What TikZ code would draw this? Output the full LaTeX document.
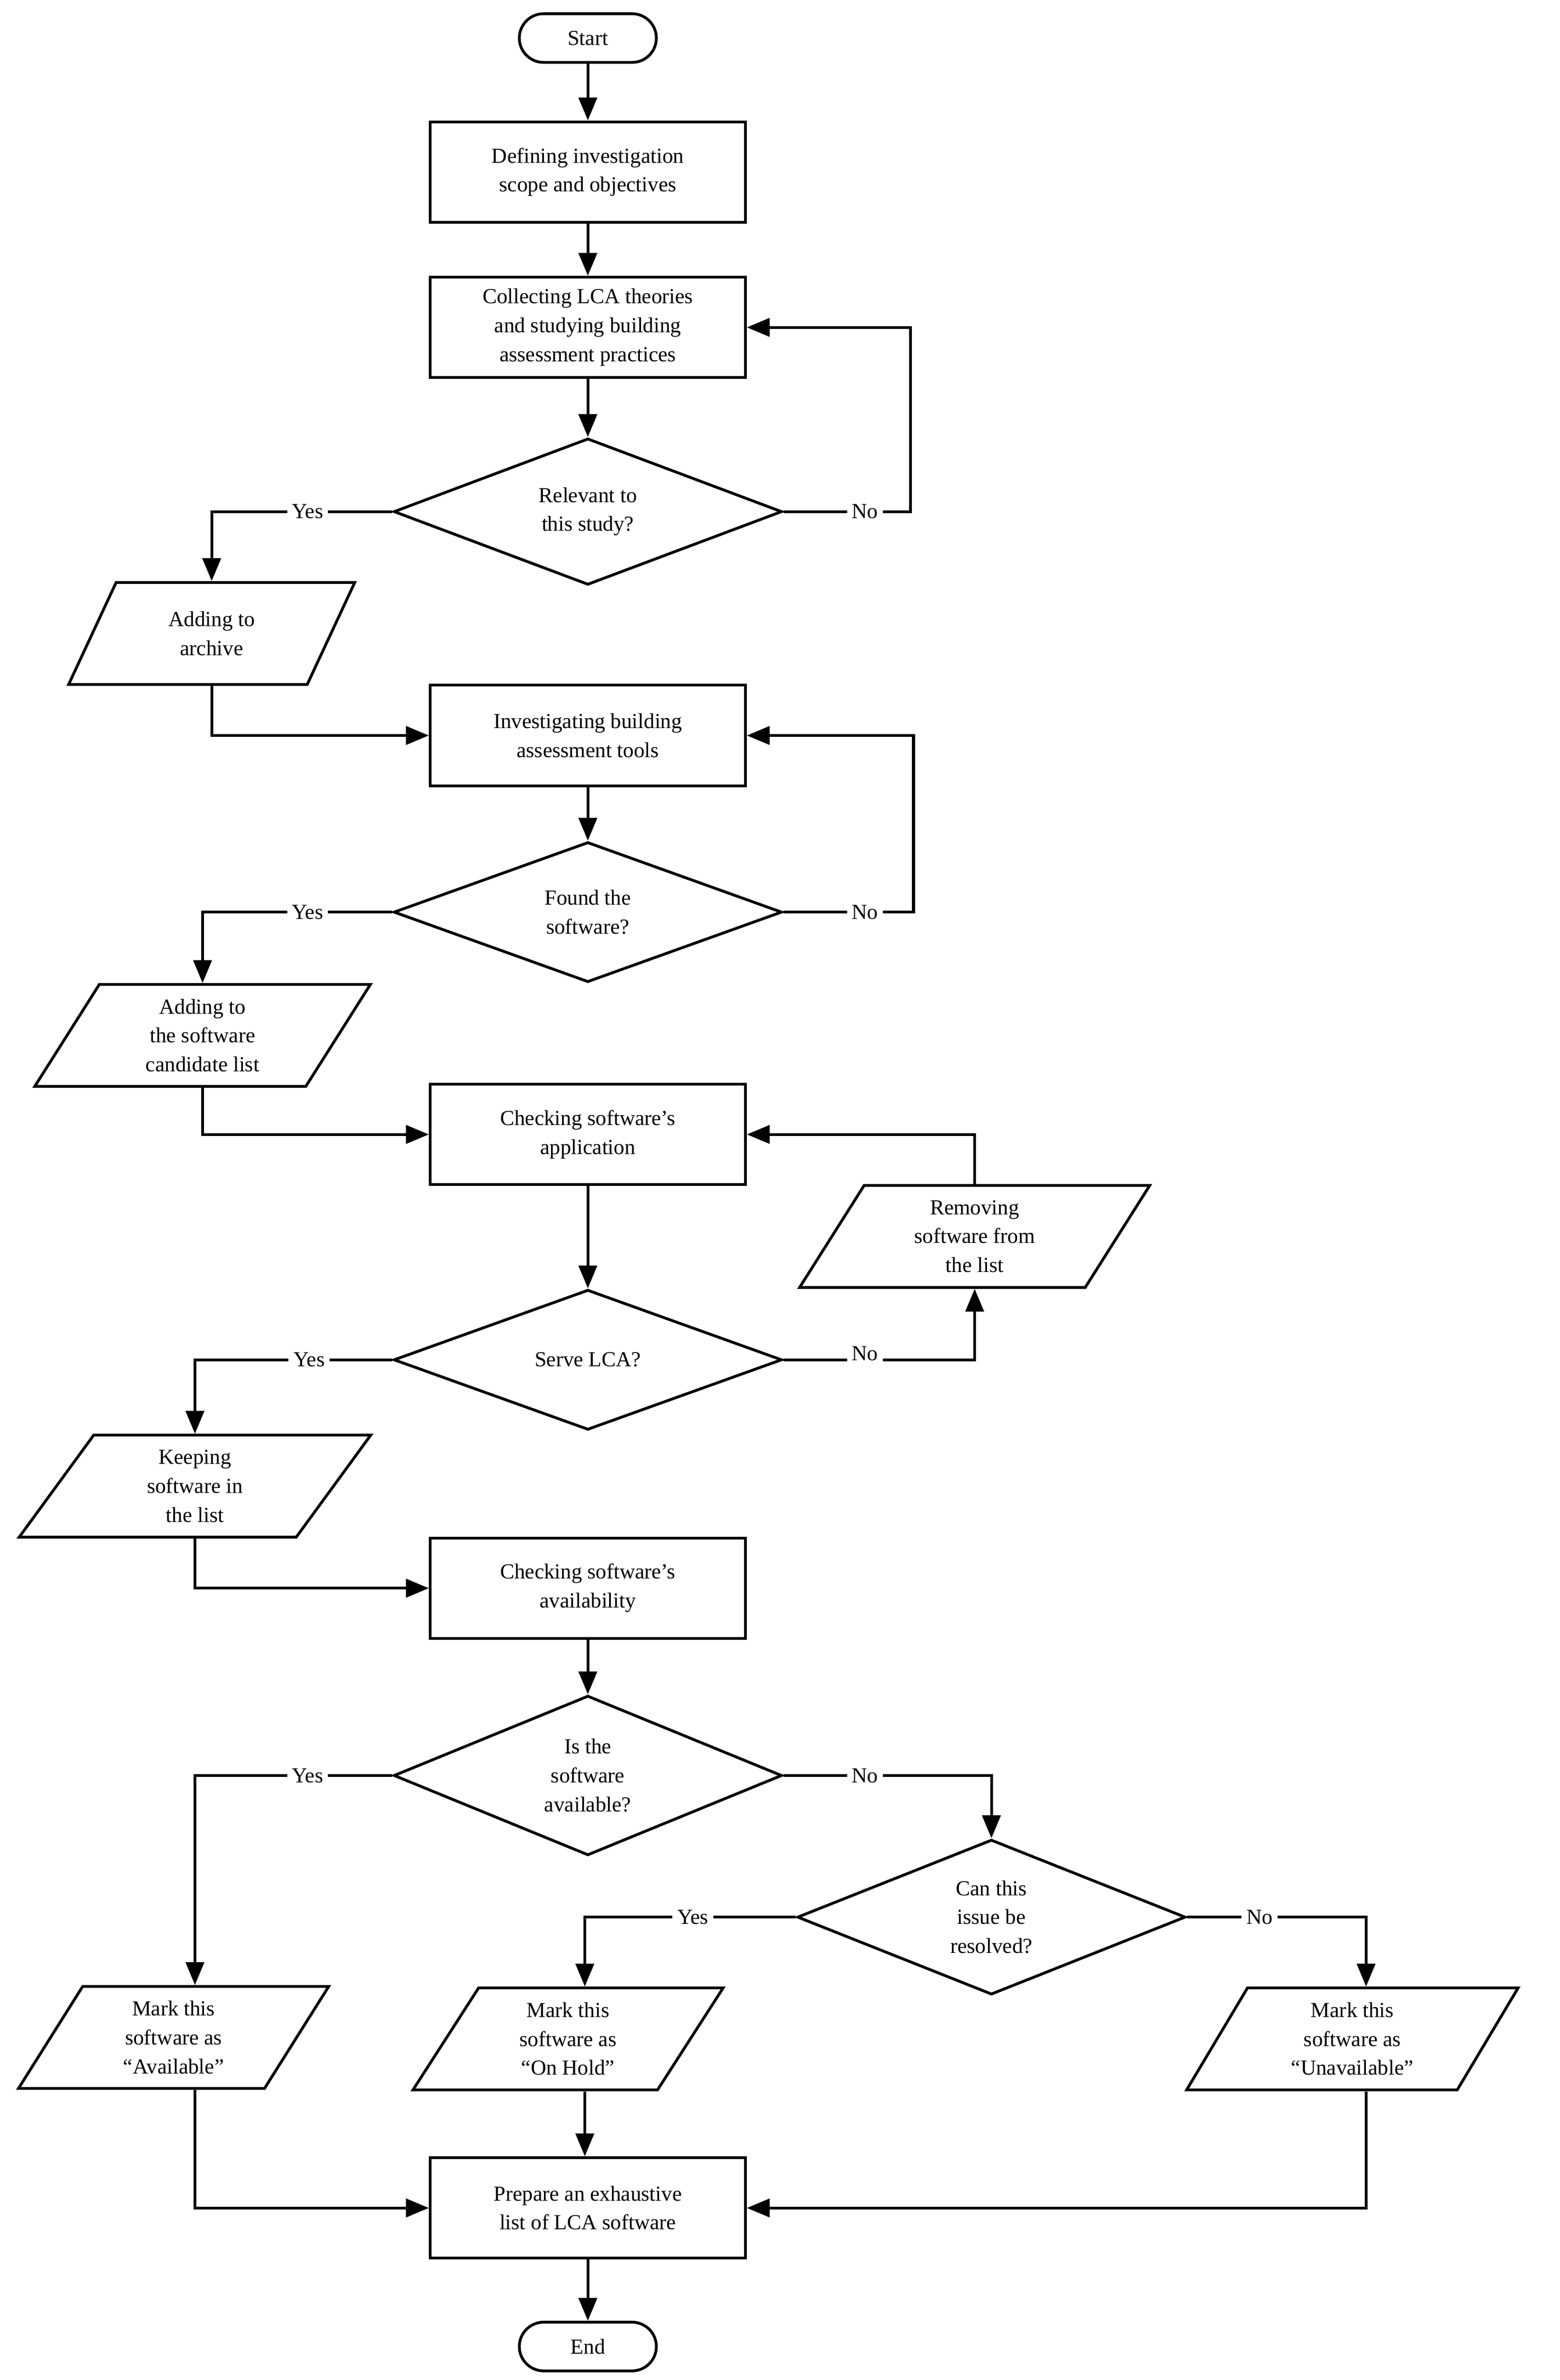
\documentclass[tikz,border=0pt]{standalone}
\usepackage{fontspec}
\setmainfont{Liberation Serif}
\usetikzlibrary{shapes.geometric,arrows.meta}
\begin{document}
\begin{tikzpicture}[x=0.05cm,y=-0.05cm,line width=2.6pt,
 every node/.style={font=\fontsize{20}{27}\selectfont,align=center},
 box/.style={draw,minimum width=10.35cm,minimum height=3.3cm,inner sep=0},
 term/.style={draw,rounded corners=0.8cm,minimum width=4.5cm,minimum height=1.6cm,inner sep=0},
 dia/.style={draw,diamond,minimum width=12.75cm,minimum height=4.6cm,inner sep=0},
 para/.style={draw,trapezium,trapezium left angle=64,trapezium right angle=116,trapezium stretches=true,minimum width=#1,minimum height=3.35cm,inner sep=0},
 arr/.style={-{Triangle[length=0.75cm,width=0.6cm]}},
 lab/.style={font=\fontsize{20}{24}\selectfont}]
\useasboundingbox (0,0) rectangle (1024,1563);
\node[term] (start) at (386,25) {Start};
\node[box] (b1) at (386,113) {Defining investigation\\scope and objectives};
\node[box] (b2) at (386,215) {Collecting LCA theories\\and studying building\\assessment practices};
\node[dia] (d1) at (386,336) {Relevant to\\this study?};
\node[para=9.4cm] (p1) at (139,416) {Adding to\\archive};
\node[box] (b3) at (386,483) {Investigating building\\assessment tools};
\node[dia] (d2) at (386,599) {Found the\\software?};
\node[para=11.05cm] (p2) at (133,680) {Adding to\\the software\\candidate list};
\node[box] (b4) at (386,745) {Checking software's\\application};
\node[para=11.5cm] (p3) at (640,812) {Removing\\software from\\the list};
\node[dia] (d3) at (386,893) {Serve LCA?};
\node[para=11.55cm] (p4) at (128,976) {Keeping\\software in\\the list};
\node[box] (b5) at (386,1043) {Checking software's\\availability};
\node[dia] (d4) at (386,1166) {Is the\\software\\available?};
\node[dia] (d5) at (651,1259) {Can this\\issue be\\resolved?};
\node[para=10.2cm] (p5) at (114,1338) {Mark this\\software as\\``Available''};
\node[para=10.2cm] (p6) at (373,1339) {Mark this\\software as\\``On Hold''};
\node[para=10.9cm] (p7) at (888,1339) {Mark this\\software as\\``Unavailable''};
\node[box] (b6) at (386,1450) {Prepare an exhaustive\\list of LCA software};
\node[term] (end) at (386,1541) {End};
\node[lab] (y1) at (202,336) {Yes}; \node[lab] (n1) at (568,336) {No};
\node[lab] (y2) at (202,599) {Yes}; \node[lab] (n2) at (568,599) {No};
\node[lab] (y3) at (203,893) {Yes}; \node[lab] (n3) at (568,889) {No};
\node[lab] (y4) at (202,1166) {Yes}; \node[lab] (n4) at (568,1166) {No};
\node[lab] (y5) at (455,1259) {Yes}; \node[lab] (n5) at (827,1259) {No};
\draw[arr] (start) -- (b1);
\draw[arr] (b1) -- (b2);
\draw[arr] (b2) -- (d1);
\draw (d1.west) -- (y1.east); \draw[arr] (y1.west) -| (p1.north);
\draw (d1.east) -- (n1.west); \draw[arr] (n1.east) -- ++(18,0) |- (b2.east);
\draw[arr] (p1.south) |- (b3.west);
\draw[arr] (b3) -- (d2);
\draw (d2.west) -- (y2.east); \draw[arr] (y2.west) -| (p2.north);
\draw (d2.east) -- (n2.west); \draw[arr] (n2.east) -- ++(20,0) |- (b3.east);
\draw[arr] (p2.south) |- (b4.west);
\draw[arr] (b4) -- (d3);
\draw[arr] (p3.north) |- (b4.east);
\draw (d3.west) -- (y3.east); \draw[arr] (y3.west) -| (p4.north);
\draw (d3.east) -- (n3.west |- d3.east); \draw[arr] (n3.east |- d3.east) -| (p3.south);
\draw[arr] (p4.south) |- (b5.west);
\draw[arr] (b5) -- (d4);
\draw (d4.west) -- (y4.east); \draw[arr] (y4.west) -| ([xshift=0.7cm]p5.north);
\draw (d4.east) -- (n4.west); \draw[arr] (n4.east) -| (d5.north);
\draw (d5.west) -- (y5.east); \draw[arr] (y5.west) -| ([xshift=0.55cm]p6.north);
\draw (d5.east) -- (n5.west); \draw[arr] (n5.east) -| ([xshift=0.45cm]p7.north);
\draw[arr] ([xshift=0.55cm]p6.south) -- ([xshift=0.55cm]p6.south |- b6.north);
\draw[arr] ([xshift=0.7cm]p5.south) |- (b6.west);
\draw[arr] ([xshift=0.45cm]p7.south) |- (b6.east);
\draw[arr] (b6) -- (end);
\end{tikzpicture}
\end{document}
